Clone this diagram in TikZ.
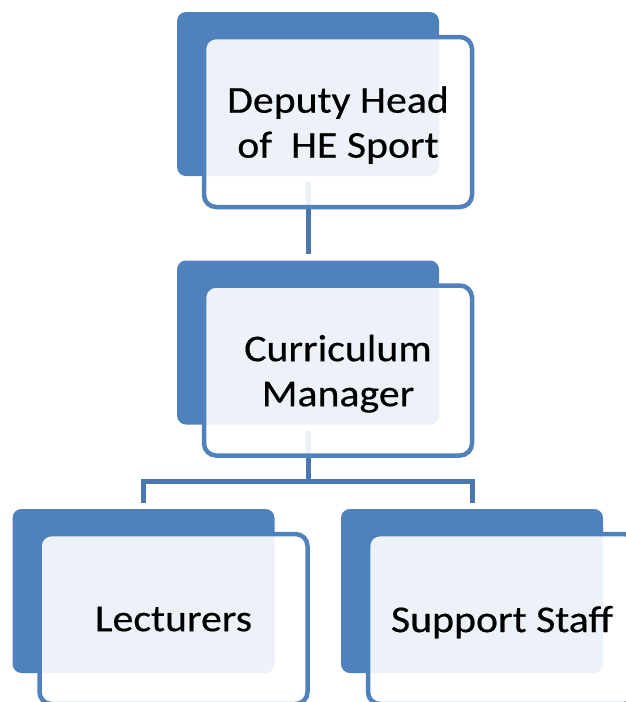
\documentclass[tikz,border=0pt]{standalone}
\usepackage{fontspec}
\setmainfont{Carlito}[FakeStretch=1.1,FakeBold=0.4]
\usetikzlibrary{positioning}
\definecolor{boxblue}{HTML}{4F81BD}
\definecolor{linkblue}{HTML}{4A77B0}

\begin{document}
\begin{tikzpicture}[x=1pt,y=-1pt,
  back/.style={rectangle,rounded corners=9pt,fill=boxblue,
    minimum width=262pt,minimum height=164pt,inner sep=0pt},
  front/.style={rectangle,rounded corners=12pt,draw=boxblue,line width=4.5pt,
    fill=white,fill opacity=0.9,text opacity=1,
    minimum width=268pt,minimum height=170pt,inner sep=0pt,
    align=center,text depth=0pt,font=\fontsize{38}{45}\selectfont,
    shift={(30,28)}},
  link/.style={draw=linkblue,line width=5pt}]

\useasboundingbox (0,0) rectangle (625,702);

% dark boxes behind
\foreach \n/\x/\y in {head/308/94, curr/308/342.5, lect/143.5/591, supp/472/591}
  \node[back] (\n) at (\x,\y) {};

% connectors (under the light boxes)
\draw[link,shorten <=6pt,shorten >=6pt] (head.south) -- (curr.north);
\draw[link,shorten <=6pt,shorten >=6pt] (curr.south) -- ++(0,57) -| (lect.north);
\draw[link,shorten <=6pt,shorten >=6pt] (curr.south) -- ++(0,57) -| (supp.north);

% light boxes with the titles
\foreach \n/\t in {head/{Deputy Head\\of~ HE Sport}, curr/{Curriculum\\Manager},
  lect/{Lecturers}, supp/{Support Staff}}
  \node[front] (\n-txt) at (\n) {\t};

\end{tikzpicture}
\end{document}
